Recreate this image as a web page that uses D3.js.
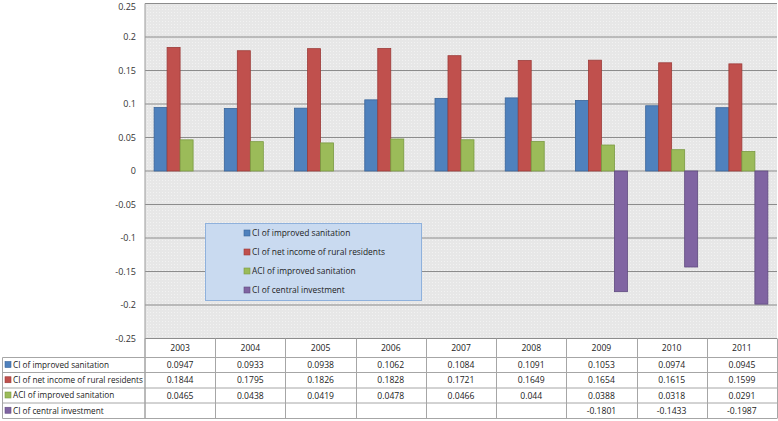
<!DOCTYPE html>
<html><head><meta charset="utf-8">
<script src="https://cdn.jsdelivr.net/npm/d3@7"></script>
<style>body{margin:0;background:#fff}svg{display:block;font-family:"Open Sans","Liberation Sans",sans-serif}</style>
</head><body><svg id="c" width="778" height="421"></svg>
<script>
const years = ["2003","2004","2005","2006","2007","2008","2009","2010","2011"];
const seriesNames = ["CI of improved sanitation","CI of net income of rural residents","ACI of improved sanitation","CI of central investment"];
const ciSanitation = [0.0947,0.0933,0.0938,0.1062,0.1084,0.1091,0.1053,0.0974,0.0945];
const ciIncome = [0.1844,0.1795,0.1826,0.1828,0.1721,0.1649,0.1654,0.1615,0.1599];
const aciSanitation = [0.0465,0.0438,0.0419,0.0478,0.0466,0.044,0.0388,0.0318,0.0291];
const ciInvestment = [null,null,null,null,null,null,-0.1801,-0.1433,-0.1987];
const yTicks = [0.25,0.2,0.15,0.1,0.05,0,-0.05,-0.1,-0.15,-0.2,-0.25];
const yTickLabels = ["0.25","0.2","0.15","0.1","0.05","0","-0.05","-0.1","-0.15","-0.2","-0.25"];
const colors = ["#4f81bd","#c0504d","#9bbb59","#8064a2"];
const strokes = ["#3a659a","#9c3b38","#7a9a41","#5f4a7f"];

const allSeries = [ciSanitation, ciIncome, aciSanitation, ciInvestment];
const svg = d3.select("#c");
const L = 145, R = 777, T = 3.5, B = 338.5;
const x = d3.scaleBand().domain(years).range([L, R]).paddingInner(0).paddingOuter(0);
const y = d3.scaleLinear().domain([-0.25, 0.25]).range([B, T]);

svg.append("rect").attr("x", L).attr("y", T).attr("width", R - L).attr("height", B - T).attr("fill", "#e7e7e7");
const defs = svg.append("defs");
const pat = defs.append("pattern").attr("id","dots").attr("width",3).attr("height",3).attr("patternUnits","userSpaceOnUse");
pat.append("rect").attr("width",1).attr("height",1).attr("fill","#f2f2f2");
svg.append("rect").attr("x", L).attr("y", T).attr("width", R - L).attr("height", B - T).attr("fill", "url(#dots)");

svg.append("g").selectAll("line").data(yTicks).join("line")
  .attr("x1", L).attr("x2", R).attr("y1", d => y(d)).attr("y2", d => y(d))
  .attr("stroke", "#8c8c8c").attr("stroke-width", 1.2);
svg.append("line").attr("x1", L).attr("x2", L).attr("y1", T).attr("y2", 418).attr("stroke", "#9a9a9a");

svg.append("g").selectAll("text").data(yTicks).join("text")
  .attr("x", 136).attr("y", d => Math.max(y(d), 6.5)).attr("dy", "0.35em").attr("text-anchor", "end")
  .attr("font-size", 9).attr("fill", "#333").text((d, i) => yTickLabels[i]);

const bw = 13;
allSeries.forEach((vals, si) => {
  svg.append("g").selectAll("rect").data(years.map((yr, i) => ({yr, v: vals[i]})).filter(d => d.v !== null)).join("rect")
    .attr("x", d => x(d.yr) + 9.1 + si * bw)
    .attr("width", bw)
    .attr("y", d => y(Math.max(0, d.v)))
    .attr("height", d => Math.abs(y(d.v) - y(0)))
    .attr("fill", colors[si]).attr("stroke", strokes[si]).attr("stroke-width", 0.8);
});

const lg = svg.append("g");
lg.append("rect").attr("x", 205.5).attr("y", 223.5).attr("width", 216).attr("height", 77)
  .attr("fill", "#c9daf0").attr("stroke", "#8fb1dc");
seriesNames.forEach((n, i) => {
  const yy = 233 + i * 19;
  lg.append("rect").attr("x", 244).attr("y", yy - 3).attr("width", 6).attr("height", 6)
    .attr("fill", colors[i]).attr("stroke", strokes[i]).attr("stroke-width", 0.6);
  lg.append("text").attr("x", 252).attr("y", yy).attr("dy", "0.35em").attr("font-size", 8.4).attr("fill", "#222").text(n);
});

const rowTops = [338.5, 357.5, 372.5, 388, 403, 418.5];
const tg = svg.append("g");
rowTops.slice(1).forEach(yy => tg.append("line").attr("x1", 2.5).attr("x2", R).attr("y1", yy).attr("y2", yy).attr("stroke", "#a6a6a6"));
tg.append("line").attr("x1", 2.5).attr("x2", 2.5).attr("y1", 357.5).attr("y2", 418.5).attr("stroke", "#a6a6a6");
years.forEach(yr => {
  const xx = Math.round(x(yr) + x.bandwidth()) + 0.5;
  tg.append("line").attr("x1", xx).attr("x2", xx).attr("y1", B).attr("y2", 418.5).attr("stroke", "#a6a6a6");
});
tg.append("line").attr("x1", L).attr("x2", L).attr("y1", B).attr("y2", 418.5).attr("stroke", "#a6a6a6");
tg.selectAll("text.yr").data(years).join("text").attr("class","yr")
  .attr("x", d => x(d) + x.bandwidth() / 2).attr("y", (rowTops[0] + rowTops[1]) / 2).attr("dy", "0.35em")
  .attr("text-anchor", "middle").attr("font-size", 8.6).attr("fill", "#222").text(d => d);
allSeries.forEach((vals, si) => {
  const cy = (rowTops[si + 1] + rowTops[si + 2]) / 2;
  tg.append("rect").attr("x", 5).attr("y", cy - 3.5).attr("width", 6).attr("height", 6)
    .attr("fill", colors[si]).attr("stroke", strokes[si]).attr("stroke-width", 0.6);
  tg.append("text").attr("x", 13).attr("y", cy).attr("dy", "0.35em").attr("font-size", 8.2).attr("fill", "#222").text(seriesNames[si]);
  tg.append("g").selectAll("text").data(years.map((yr, i) => ({yr, v: vals[i]})).filter(d => d.v !== null)).join("text")
    .attr("x", d => x(d.yr) + x.bandwidth() / 2).attr("y", cy).attr("dy", "0.35em")
    .attr("text-anchor", "middle").attr("font-size", 8.6).attr("fill", "#222").text(d => String(d.v));
});
</script></body></html>
